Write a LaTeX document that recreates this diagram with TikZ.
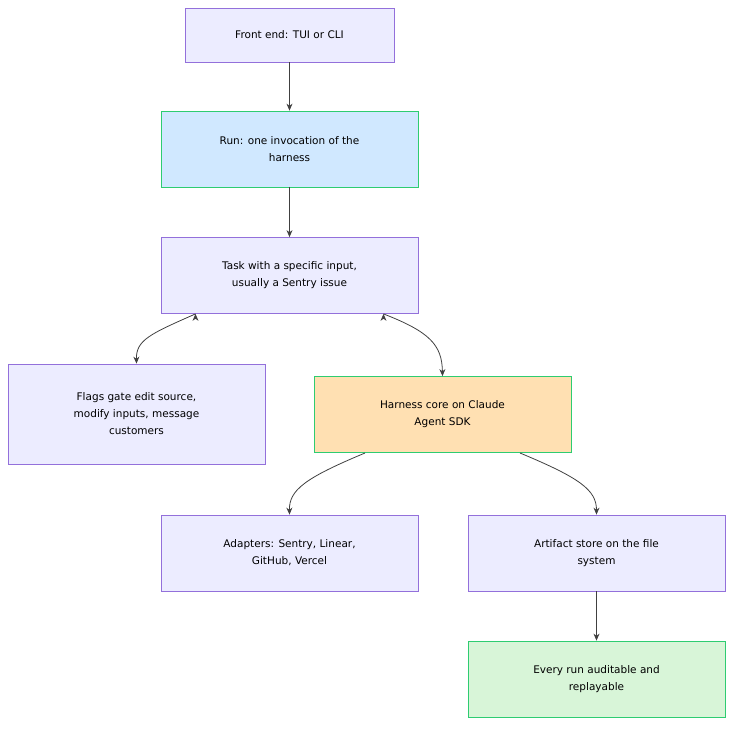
\documentclass[tikz,border=0pt]{standalone}
\usepackage{fontspec}
\setmainfont{DejaVu Sans}
\usetikzlibrary{arrows.meta}
\definecolor{lav}{HTML}{ECECFF}
\definecolor{purp}{HTML}{9370DB}
\definecolor{grn}{HTML}{2ECC71}
\definecolor{blu}{HTML}{D0E8FF}
\definecolor{org}{HTML}{FFE0B2}
\definecolor{lgr}{HTML}{D8F5D8}
\begin{document}
\begin{tikzpicture}[x=1pt,y=-1pt,
  box/.style={draw=purp,fill=lav,line width=0.8pt,minimum height=76pt,minimum width=257pt,align=center,font=\fontsize{10.5}{17}\selectfont,inner sep=0pt},
  gbox/.style={box,draw=grn},
  arr/.style={-{Stealth[length=7pt,width=6pt]},draw=black!75,line width=0.8pt}]
\useasboundingbox (0,0) rectangle (741,734);
\node[box,minimum width=209pt,minimum height=54pt] (fe) at (289.5,35) {Front end: TUI or CLI};
\node[gbox,fill=blu] (run) at (289.5,149) {Run: one invocation of the\\harness};
\node[box] (task) at (289.5,275.5) {Task with a specific input,\\usually a Sentry issue};
\node[box,minimum height=100pt] (flags) at (136.5,414) {Flags gate edit source,\\modify inputs, message\\customers};
\node[gbox,fill=org] (core) at (442.5,414.5) {Harness core on Claude\\Agent SDK};
\node[box] (ad) at (289.5,553) {Adapters: Sentry, Linear,\\GitHub, Vercel};
\node[box] (art) at (596.5,553) {Artifact store on the file\\system};
\node[gbox,fill=lgr] (ev) at (596.5,679) {Every run auditable and\\replayable};
\draw[arr] (fe) -- (run);
\draw[arr] (run) -- (task);
\draw[arr] (task.south) ++(-94,0) coordinate (t1);
\draw[arr] (t1) .. controls (150,334) and (136,340) .. (flags.north);
\draw[arr] (task.south) ++(94,0) coordinate (t2);
\draw[arr] (t2) .. controls (430,332) and (442,345) .. (core.north);
\coordinate (c1) at (365,453);
\draw[arr] (c1) .. controls (305,478) and (289,490) .. (ad.north);
\coordinate (c2) at (520,453);
\draw[arr] (c2) .. controls (580,478) and (596.5,490) .. (art.north);
\draw[arr] (art) -- (ev);
\end{tikzpicture}
\end{document}
